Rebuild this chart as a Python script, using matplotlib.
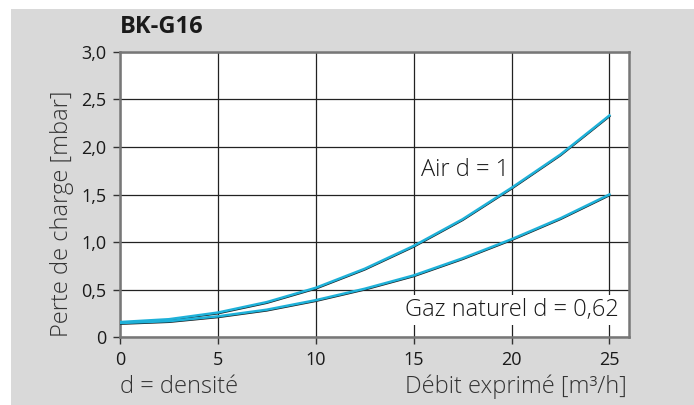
import matplotlib
matplotlib.use("Agg")
import matplotlib.pyplot as plt
import matplotlib.transforms as mtransforms
from matplotlib.patches import Rectangle

plt.rcParams['font.family'] = ['Open Sans', 'DejaVu Sans']

# values
debit = [0, 2.5, 5, 7.5, 10, 12.5, 15, 17.5, 20, 22.5, 25]
air = [0.16, 0.19, 0.26, 0.37, 0.52, 0.72, 0.96, 1.24, 1.57, 1.92, 2.33]
gaz = [0.15, 0.17, 0.22, 0.29, 0.39, 0.51, 0.65, 0.83, 1.03, 1.25, 1.50]

x_ticks = [0, 5, 10, 15, 20, 25]
y_ticks = [0, 0.5, 1.0, 1.5, 2.0, 2.5, 3.0]
y_labels = ['0', '0,5', '1,0', '1,5', '2,0', '2,5', '3,0']

fig = plt.figure(figsize=(6.94, 4.05), dpi=100)
fig.patch.set_facecolor('white')
# grey panel behind the chart
fig.patches.append(Rectangle((11 / 694, 0), 1 - 11 / 694, 396 / 405,
                             transform=fig.transFigure, facecolor='#d9d9d9',
                             edgecolor='none', zorder=-10))

ax = fig.add_axes([120 / 694, 1 - 337.3 / 405, 509 / 694, 285.6 / 405])
ax.set_facecolor('white')

shadow = mtransforms.offset_copy(ax.transData, fig=fig, x=0, y=-0.8, units='dots')
for ys in (air, gaz):
    ax.plot(debit, ys, color='#1a1a1a', lw=1.6, transform=shadow, zorder=3)
    ax.plot(debit, ys, color='#1eb1d9', lw=1.8, zorder=4)

ax.set_xlim(0, 26)
ax.set_ylim(0, 3.0)
ax.set_xticks(x_ticks)
ax.set_yticks(y_ticks)
ax.set_yticklabels(y_labels)
ax.grid(True, color='#222222', lw=0.9)
ax.set_axisbelow(True)
for s in ax.spines.values():
    s.set_color('#777777')
    s.set_linewidth(1.8)
ax.tick_params(direction='out', length=5, width=1, color='#333333',
               labelsize=13, labelcolor='#1a1a1a', pad=5)

fig.text(62 / 694, 1 - 337 / 405, 'Perte de charge [mbar]', fontsize=17,
         color='#333333', fontweight='light', rotation=90,
         ha='center', va='bottom')

ax.text(15.4, 1.76, 'Air d = 1', fontsize=17, color='#1a1a1a',
        fontweight='light', va='center', ha='left')
ax.text(25.5, 0.29, 'Gaz naturel d = 0,62', fontsize=17, color='#1a1a1a',
        fontweight='light', va='center', ha='right',
        bbox=dict(facecolor='white', edgecolor='none', pad=2))

fig.text(120 / 694, 1 - 27 / 405, 'BK-G16', fontsize=17, fontweight='bold',
         color='#1a1a1a', va='center', ha='left')
fig.text(120 / 694, 1 - 387 / 405, 'd = densité', fontsize=17, color='#333333',
         fontweight='light', va='center', ha='left')
fig.text(627 / 694, 1 - 387 / 405, 'Débit exprimé [m³/h]', fontsize=17,
         color='#333333', fontweight='light', va='center', ha='right')

fig.savefig('out.png', dpi=100)
